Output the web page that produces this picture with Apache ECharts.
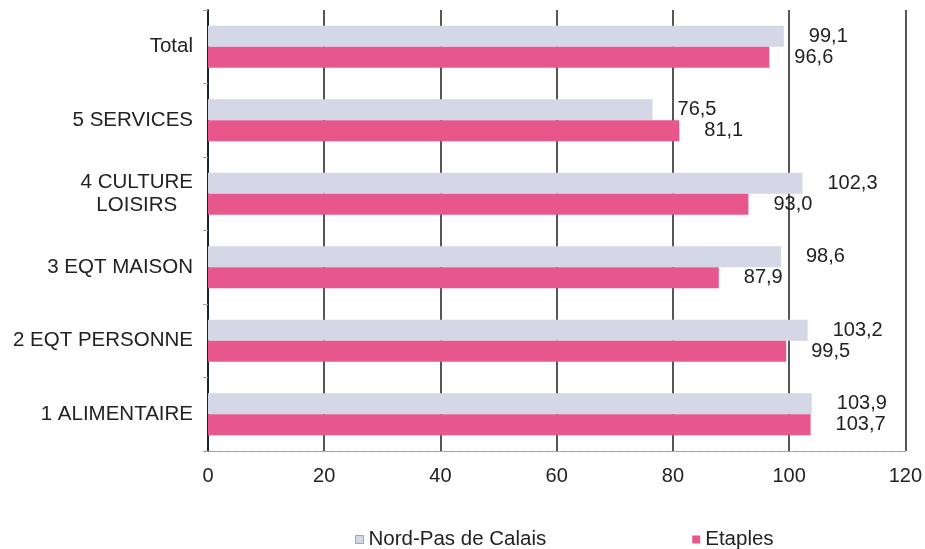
<!DOCTYPE html>
<html>
<head>
<meta charset="utf-8">
<script src="https://cdn.jsdelivr.net/npm/echarts@6/dist/echarts.min.js"></script>
<style>
  html, body { margin: 0; padding: 0; background: #fff; }
  #chart { width: 925px; height: 549px; }
</style>
</head>
<body>
<div id="chart"></div>
<script>
// Categories listed bottom to top (ECharts category y axis starts at the bottom)
const categories = ['1 ALIMENTAIRE', '2 EQT PERSONNE', '3 EQT MAISON', '4 CULTURE\nLOISIRS', '5 SERVICES', 'Total'];
const seriesNames = ['Nord-Pas de Calais', 'Etaples'];
const nordValues = [103.9, 103.2, 98.6, 102.3, 76.5, 99.1];
const etaplesValues = [103.7, 99.5, 87.9, 93.0, 81.1, 96.6];
const xTicks = { min: 0, max: 120, interval: 20 };

const FONT = '"Liberation Sans", Arial, sans-serif';
const TEXT = '#222';
const GREY = '#d3d7e6';
const PINK = '#e8578b';

const fmt = p => p.value.toFixed(1).replace('.', ',');

const chart = echarts.init(document.getElementById('chart'));
chart.setOption({
  animation: false,
  backgroundColor: '#fff',
  textStyle: { fontFamily: FONT },
  grid: { left: 208, right: 17, top: 10, bottom: 98 },
  xAxis: {
    type: 'value',
    min: xTicks.min,
    max: xTicks.max,
    interval: xTicks.interval,
    axisLine: { show: true, lineStyle: { color: '#8a8f99', width: 1, type: 'dotted' } },
    axisTick: { show: false },
    axisLabel: { color: TEXT, fontSize: 20, fontFamily: FONT, margin: 15 },
    splitLine: { show: true, lineStyle: { color: '#1e1e1e', width: 1.5 } }
  },
  yAxis: {
    type: 'category',
    data: categories,
    axisLine: { show: true, lineStyle: { color: '#1a2330', width: 2 } },
    axisTick: { show: true, length: 5, lineStyle: { color: '#9aa0aa' } },
    axisLabel: {
      color: TEXT,
      fontSize: 20.5,
      fontFamily: FONT,
      margin: 15,
      formatter: v => v.indexOf('\n') >= 0
        ? v.split('\n').map(s => '{c|' + s + '}').join('\n')
        : v,
      rich: { c: { align: 'center', fontSize: 20.5, fontFamily: FONT, color: TEXT, lineHeight: 23 } }
    }
  },
  legend: {
    left: 350,
    top: 524,
    itemWidth: 8,
    itemHeight: 8,
    itemGap: 146,
    icon: 'rect',
    textStyle: { color: TEXT, fontSize: 20.5, fontFamily: FONT },
    data: [
      { name: seriesNames[0], itemStyle: { color: GREY, borderColor: '#9aa6bf', borderWidth: 1 } },
      { name: seriesNames[1], itemStyle: { color: PINK } }
    ]
  },
  series: [
    {
      name: seriesNames[0],
      type: 'bar',
      data: nordValues,
      barWidth: 21,
      barGap: '0%',
      itemStyle: { color: GREY },
      label: {
        show: true, position: 'right', distance: 25,
        color: TEXT, fontSize: 20, fontFamily: FONT, formatter: fmt
      }
    },
    {
      name: seriesNames[1],
      type: 'bar',
      data: etaplesValues,
      barWidth: 21,
      barGap: '0%',
      itemStyle: { color: PINK },
      label: {
        show: true, position: 'right', distance: 25,
        color: TEXT, fontSize: 20, fontFamily: FONT, formatter: fmt
      }
    }
  ]
});
</script>
</body>
</html>
